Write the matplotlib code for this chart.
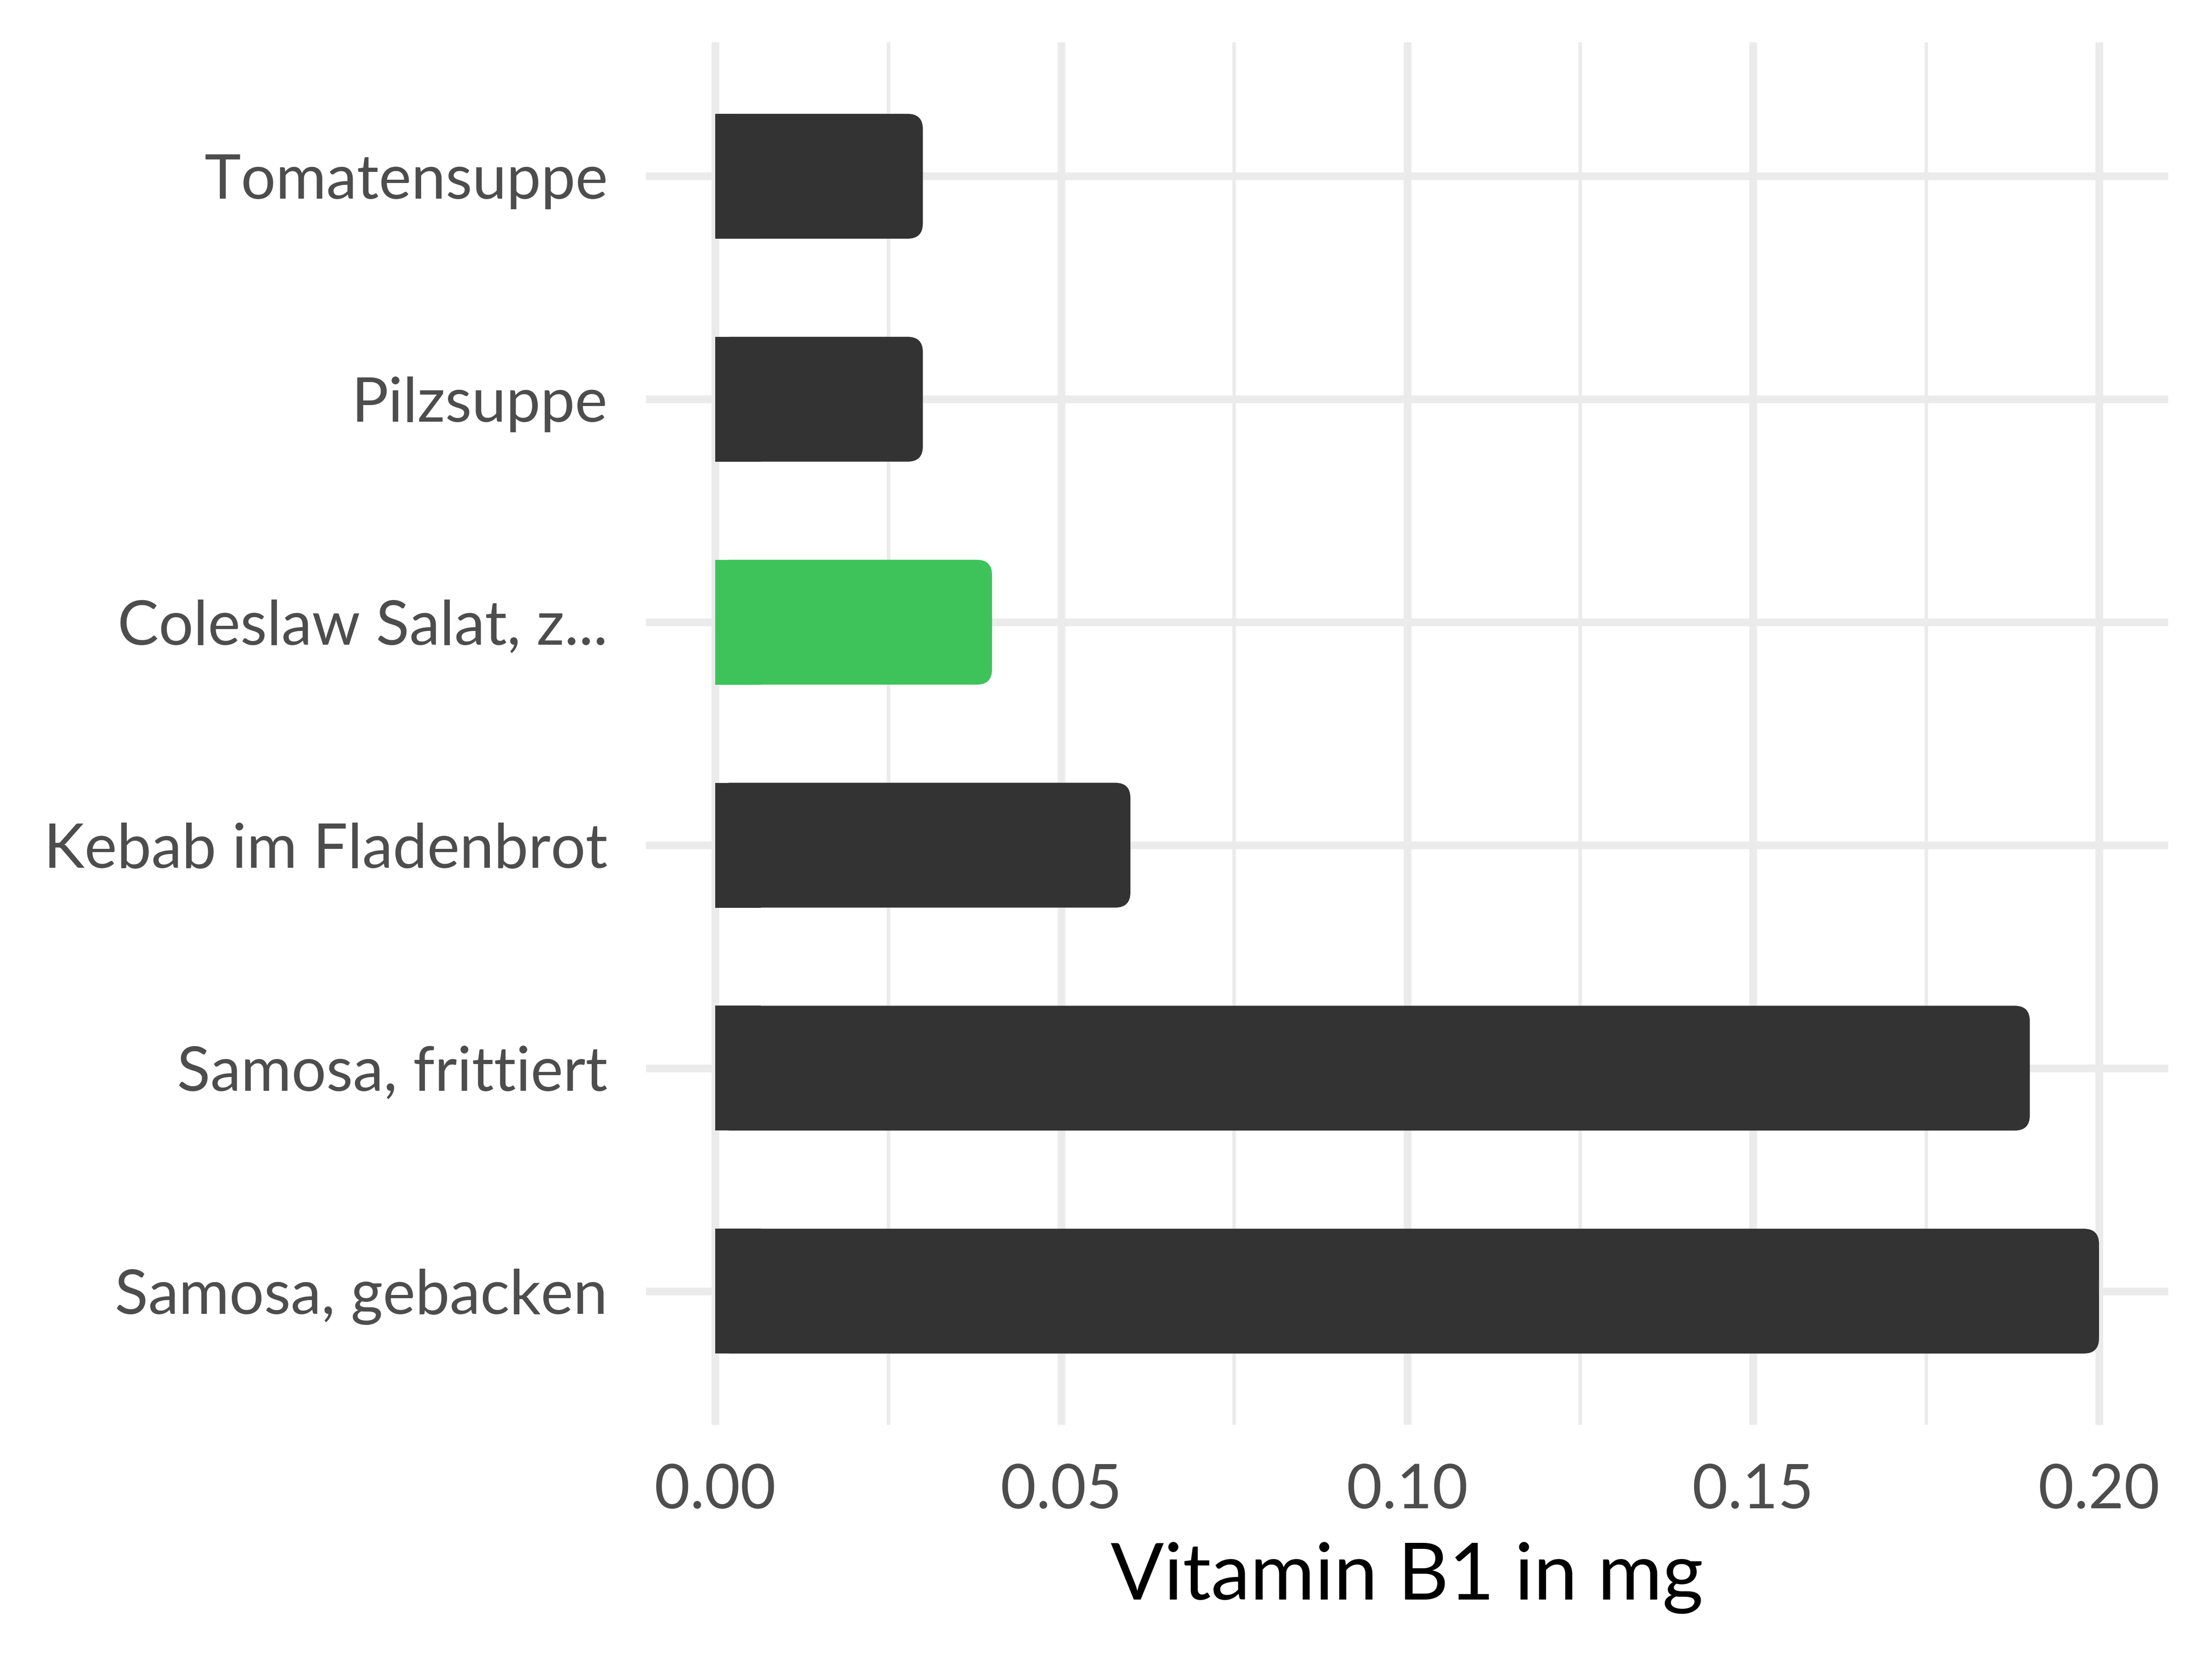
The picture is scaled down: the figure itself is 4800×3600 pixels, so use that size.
# Balkendiagramm: Vitamin B1 in mg (horizontale Balken, abgerundete Enden)

import matplotlib.pyplot as plt
from matplotlib.patches import FancyBboxPatch, Rectangle
import matplotlib.ticker as ticker

# Daten (von oben nach unten)
lebensmittel = ['Tomatensuppe', 'Pilzsuppe', 'Coleslaw Salat, z...',
                'Kebab im Fladenbrot', 'Samosa, frittiert', 'Samosa, gebacken']
vitamin_b1 = [0.03, 0.03, 0.04, 0.06, 0.19, 0.20]
farben = ['#333333', '#333333', '#3EC35A', '#333333', '#333333', '#333333']
x_ticks = [0.00, 0.05, 0.10, 0.15, 0.20]

plt.rcParams['font.family'] = ['Lato', 'DejaVu Sans']

fig = plt.figure(figsize=(16, 12), dpi=300)
ax = fig.add_axes([0.2921, 0.1411, 0.6881, 0.8333])

n = len(lebensmittel)
hoehe = 0.56
r_x = 0.0022
aspekt = 31

for i, (name, wert, farbe) in enumerate(zip(lebensmittel, vitamin_b1, farben)):
    y = n - 1 - i
    # abgerundeter Balken
    box = FancyBboxPatch((0, y - hoehe / 2), wert, hoehe,
                         boxstyle=f'round,pad=0,rounding_size={r_x}',
                         mutation_aspect=aspekt, facecolor=farbe,
                         edgecolor='none', zorder=3)
    ax.add_patch(box)
    # linke Seite eckig
    ax.add_patch(Rectangle((0, y - hoehe / 2), min(wert, 3 * r_x), hoehe,
                           facecolor=farbe, edgecolor='none', zorder=3))

ax.set_xlim(-0.01, 0.21)
ax.set_ylim(-0.6, n - 0.4)

ax.set_yticks(range(n))
ax.set_yticklabels(lebensmittel[::-1])
ax.set_xticks(x_ticks)
ax.set_xticklabels([f'{v:.2f}' for v in x_ticks])
ax.xaxis.set_minor_locator(ticker.MultipleLocator(0.025))

ax.grid(True, which='major', color='#EBEBEB', linewidth=4.0, zorder=0)
ax.grid(True, which='minor', axis='x', color='#EBEBEB', linewidth=1.8, zorder=0)
ax.set_axisbelow(True)

for s in ax.spines.values():
    s.set_visible(False)

ax.tick_params(axis='both', which='both', length=0, labelcolor='#4D4D4D',
               labelsize=32)
ax.tick_params(axis='y', pad=20)
ax.tick_params(axis='x', pad=20)

ax.set_xlabel('Vitamin B1 in mg', fontsize=41, color='black', labelpad=12)

plt.savefig('out.png', dpi=300)
